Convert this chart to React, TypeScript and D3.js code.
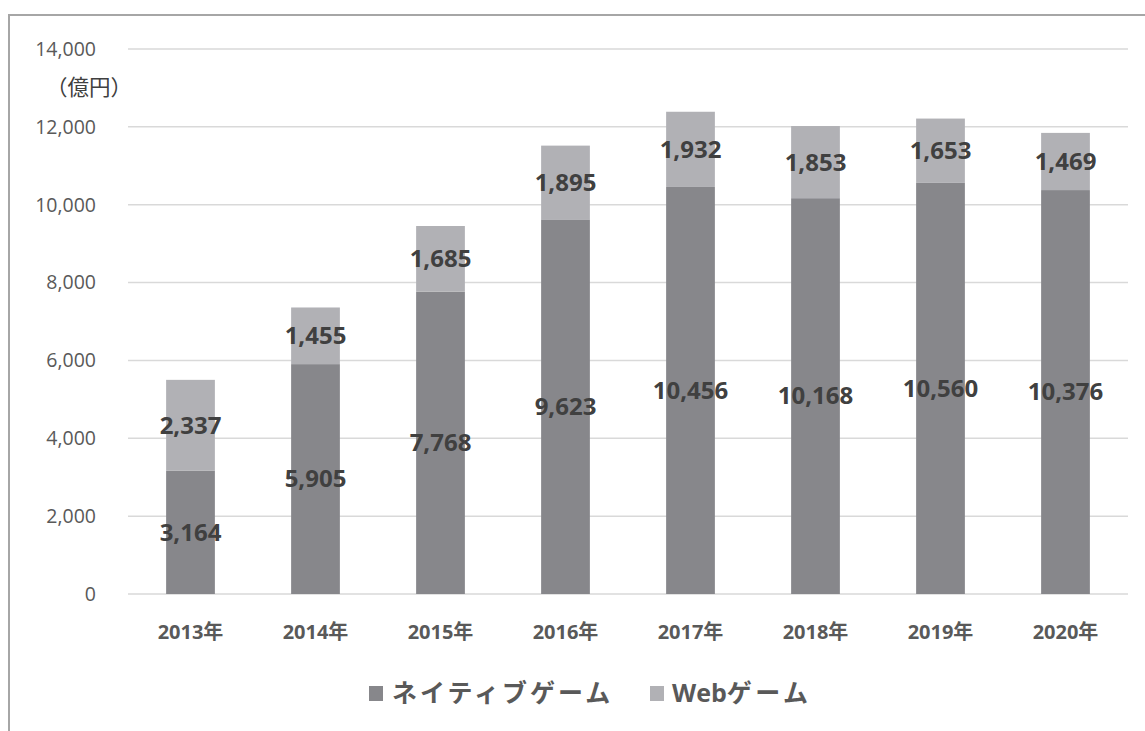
import React from "react";
import * as d3 from "d3";

const categories = ["2013年", "2014年", "2015年", "2016年", "2017年", "2018年", "2019年", "2020年"];
const nativeValues = [3164, 5905, 7768, 9623, 10456, 10168, 10560, 10376];
const webValues = [2337, 1455, 1685, 1895, 1932, 1853, 1653, 1469];
const yTicks = [0, 2000, 4000, 6000, 8000, 10000, 12000, 14000];
const seriesNames = ["ネイティブゲーム", "Webゲーム"];

const W = 1145;
const H = 731;
const FONT = "'Open Sans', 'Noto Sans CJK JP', sans-serif";
const DARK = "#87878b";
const LIGHT = "#b1b1b5";

export default function App() {
  const x = d3.scaleBand<string>().domain(categories).range([128, 1128]).paddingInner(0.61).paddingOuter(0.305);
  const y = d3.scaleLinear().domain([0, 14000]).range([594, 49]);
  const fmt = d3.format(",");
  const stack = categories.map((c, i) => ({ c, n: nativeValues[i], w: webValues[i] }));
  const webLatin = seriesNames[1].slice(0, 3);
  const webKana = seriesNames[1].slice(3);

  return (
    <svg width={W} height={H} style={{ position: "absolute", left: 0, top: 0, background: "#fff" }}>
      <rect x={9} y={15} width={W} height={H} fill="#fff" stroke="#a6a6a6" strokeWidth={2} />
      {yTicks.map((t) => (
        <g key={t}>
          <line x1={128} x2={1128} y1={y(t)} y2={y(t)} stroke="#d9d9d9" strokeWidth={1.5} />
          <text x={96} y={y(t)} dy="0.35em" textAnchor="end" fontFamily={FONT} fontSize={19.5} fill="#595959">
            {fmt(t)}
          </text>
        </g>
      ))}
      <text x={46} y={87} dy="0.35em" fontFamily="'Noto Sans CJK JP', sans-serif" fontSize={21.5} fill="#404040">
        （億円）
      </text>
      {stack.map((d) => {
        const bx = x(d.c)!;
        const bw = x.bandwidth();
        const cx = bx + bw / 2;
        return (
          <g key={d.c}>
            <rect x={bx} y={y(d.n)} width={bw} height={y(0) - y(d.n)} fill={DARK} />
            <rect x={bx} y={y(d.n + d.w)} width={bw} height={y(d.n) - y(d.n + d.w)} fill={LIGHT} />
            <text x={cx} y={y(d.n / 2)} dy="0.35em" textAnchor="middle" fontFamily={FONT} fontWeight="bold" fontSize={24} fill="#404040">
              {fmt(d.n)}
            </text>
            <text x={cx} y={y(d.n + d.w / 2)} dy="0.35em" textAnchor="middle" fontFamily={FONT} fontWeight="bold" fontSize={24} fill="#404040">
              {fmt(d.w)}
            </text>
            <text x={cx} y={632} dy="0.35em" textAnchor="middle" fontFamily={FONT} fontWeight="bold" fontSize={20} fill="#595959">
              {d.c}
            </text>
          </g>
        );
      })}
      <g>
        <rect x={369} y={686} width={14} height={15} fill={DARK} />
        <text x={392} y={693} dy="0.35em" fontFamily={FONT} fontWeight="bold" fontSize={25} letterSpacing={3} fill="#595959">
          {seriesNames[0]}
        </text>
        <rect x={650} y={686} width={14} height={15} fill={LIGHT} />
        <text x={672} y={693} dy="0.35em" fontFamily={FONT} fontWeight="bold" fontSize={25} fill="#595959">
          <tspan>{webLatin}</tspan>
          <tspan letterSpacing={3.5}>{webKana}</tspan>
        </text>
      </g>
    </svg>
  );
}
